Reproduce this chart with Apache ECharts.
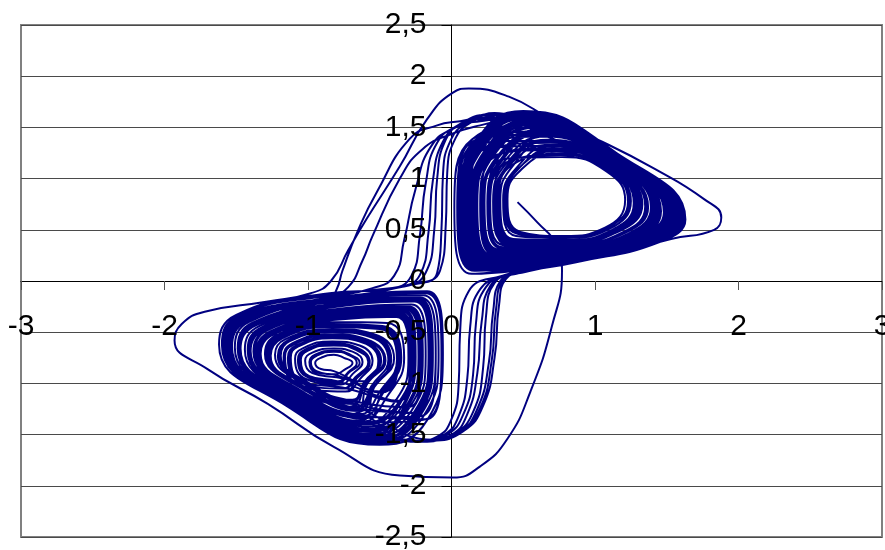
<!DOCTYPE html>
<html>
<head>
<meta charset="utf-8">
<script src="https://cdn.jsdelivr.net/npm/echarts@6/dist/echarts.min.js"></script>
<style>
  html, body { margin: 0; padding: 0; background: #fff; }
  #main { width: 885px; height: 550px; }
</style>
</head>
<body>
<div id="main"></div>
<script>
// axis ranges
const xTicks = [-3, -2, -1, 0, 1, 2, 3]
const yTicks = [-2.5, -2, -1.5, -1, -0.5, 0, 0.5, 1, 1.5, 2, 2.5]

// trajectory, segment by segment
const startPath = [[0.46,0.77],[0.60,0.57],[0.73,0.36],[0.77,0.10],[0.70,-0.44],[0.55,-1.08],[0.39,-1.54],[0.20,-1.81],[0.01,-1.92],[-0.36,-1.90],[-0.82,-1.62],[-1.28,-1.20],[-1.70,-0.86],[-1.93,-0.58],[-1.88,-0.42],[-1.72,-0.30],[-1.28,-0.20],[-0.98,-0.12],[-0.84,0.00],[-0.72,0.30],[-0.59,0.61],[-0.36,1.12],[-0.17,1.58],[0.01,1.84],[0.12,1.88],[0.40,1.80],[0.71,1.57],[1.05,1.36],[1.41,1.10],[1.76,0.80],[1.88,0.62],[1.83,0.50],[1.53,0.41],[1.18,0.28],[0.80,0.19],[0.45,0.11]]

const rightA = [[0.14,0.07],[0.02,0.71],[0.14,1.38],
  [0.58,1.52],[1.13,1.19],[1.50,0.66],[1.33,0.43],[0.83,0.26],[0.23,0.19],[0.12,0.73],[0.23,1.30],
  [0.65,1.41],[1.11,1.15],[1.39,0.72],[1.23,0.46],[0.81,0.33],[0.33,0.31],[0.23,0.76],[0.33,1.21],
  [0.63,1.45],[1.12,1.16],[1.43,0.69],[1.27,0.44],[0.82,0.30],[0.29,0.25],[0.18,0.75],[0.29,1.25],
  [0.60,1.50],[1.13,1.18],[1.48,0.67],[1.31,0.44],[0.83,0.28],[0.25,0.21],[0.14,0.74],[0.25,1.28],
  [0.57,1.55],[1.13,1.20],[1.52,0.65],[1.35,0.42],[0.83,0.25],[0.21,0.16],[0.10,0.73],[0.21,1.31],
  [0.54,1.59],[1.14,1.22],[1.56,0.63],[1.39,0.41],[0.84,0.22],[0.18,0.12],[0.06,0.72],[0.18,1.35],
  [0.51,1.64],[1.15,1.24],[1.61,0.61],[1.43,0.39],[0.85,0.19]]

const crossRL1 = [[0.50,0.10],[0.34,0.00],[0.29,-0.30],[0.26,-0.80],[0.18,-1.25],[0.05,-1.48],[-0.15,-1.56]]

const leftA = [
  [-0.53,-1.53],[-1.12,-1.18],[-1.55,-0.64],[-1.44,-0.37],[-0.85,-0.18],[-0.18,-0.12],[-0.07,-0.71],[-0.18,-1.35],
  [-0.63,-1.31],[-1.05,-1.07],[-1.34,-0.70],[-1.25,-0.51],[-0.84,-0.37],[-0.38,-0.34],[-0.29,-0.74],[-0.38,-1.18],
  [-0.76,-1.04],[-1.03,-0.99],[-1.12,-0.75],[-1.07,-0.64],[-0.83,-0.56],[-0.62,-0.60],[-0.51,-0.78],[-0.62,-0.98],
  [-0.80,-0.94],[-0.97,-0.90],[-1.02,-0.78],[-0.97,-0.70],[-0.82,-0.66],[-0.69,-0.69],[-0.62,-0.79],[-0.69,-0.91],
  [-0.77,-1.01],[-1.01,-0.96],[-1.09,-0.76],[-1.04,-0.66],[-0.83,-0.59],[-0.64,-0.63],[-0.55,-0.78],[-0.64,-0.96],
  [-0.74,-1.08],[-1.05,-1.02],[-1.16,-0.74],[-1.10,-0.62],[-0.83,-0.53],[-0.60,-0.58],[-0.47,-0.77],[-0.60,-1.00],
  [-0.68,-1.20],[-1.01,-1.02],[-1.23,-0.72],[-1.16,-0.57],[-0.83,-0.47],[-0.54,-0.52],[-0.40,-0.76],[-0.54,-1.04],
  [-0.64,-1.27],[-1.03,-1.05],[-1.30,-0.71],[-1.22,-0.53],[-0.84,-0.40],[-0.45,-0.41],[-0.33,-0.75],[-0.45,-1.13],
  [-0.61,-1.34],[-1.06,-1.09],[-1.37,-0.69],[-1.28,-0.48],[-0.84,-0.34],[-0.34,-0.30],[-0.26,-0.74],[-0.34,-1.21],
  [-0.58,-1.42],[-1.09,-1.13],[-1.44,-0.67],[-1.34,-0.44],[-0.84,-0.28],[-0.28,-0.23],[-0.18,-0.73],[-0.28,-1.27],
  [-0.55,-1.49],[-1.11,-1.16],[-1.51,-0.65],[-1.41,-0.40],[-0.85,-0.21],[-0.22,-0.16],[-0.11,-0.72],[-0.22,-1.32],
  [-0.52,-1.56],[-1.14,-1.20],[-1.58,-0.63],[-1.47,-0.35],[-0.85,-0.15]]

const crossLR1 = [[-0.72,-0.06],[-0.62,0.20],[-0.55,0.44],[-0.36,1.00],[-0.20,1.29],[0.01,1.44],[0.20,1.52]]

const rightB = [
  [0.53,1.61],[1.14,1.23],[1.59,0.62],[1.41,0.40],[0.84,0.21],[0.16,0.10],[0.04,0.71],[0.16,1.37],
  [0.64,1.43],[1.12,1.16],[1.41,0.70],[1.25,0.46],[0.82,0.32],[0.31,0.28],[0.21,0.75],[0.31,1.23],
  [0.72,1.28],[1.09,1.10],[1.28,0.76],[1.13,0.50],[0.79,0.40],[0.42,0.41],[0.33,0.78],[0.42,1.13],
  [0.75,1.24],[1.09,1.08],[1.23,0.78],[1.09,0.52],[0.79,0.42],[0.46,0.46],[0.37,0.79],[0.46,1.09],
  [0.73,1.27],[1.10,1.11],[1.29,0.77],[1.14,0.49],[0.80,0.39],[0.41,0.40],[0.32,0.78],[0.41,1.14],
  [0.70,1.33],[1.10,1.12],[1.32,0.74],[1.17,0.49],[0.80,0.37],[0.39,0.37],[0.29,0.77],[0.39,1.16],
  [0.67,1.38],[1.11,1.14],[1.37,0.72],[1.21,0.47],[0.81,0.34],[0.35,0.32],[0.25,0.76],[0.35,1.20],
  [0.63,1.44],[1.12,1.17],[1.42,0.70],[1.26,0.45],[0.82,0.31],[0.30,0.27],[0.20,0.75],[0.30,1.24],
  [0.61,1.47],[1.12,1.17],[1.45,0.68],[1.29,0.44],[0.82,0.29],[0.27,0.23],[0.16,0.74],[0.27,1.26],
  [0.59,1.53],[1.14,1.19],[1.51,0.66],[1.34,0.42],[0.83,0.27],[0.22,0.18],[0.11,0.73],[0.22,1.30],
  [0.56,1.57],[1.14,1.21],[1.54,0.64],[1.37,0.41],[0.84,0.23],[0.20,0.14],[0.08,0.72],[0.20,1.33],
  [0.53,1.62],[1.15,1.23],[1.60,0.62],[1.42,0.40],[0.84,0.20]]

const crossRL2 = [[0.45,0.09],[0.27,-0.05],[0.21,-0.40],[0.18,-0.90],[0.11,-1.30],[0.00,-1.50],[-0.18,-1.56]]

const leftB = [
  [-0.56,-1.45],[-1.10,-1.15],[-1.48,-0.66],[-1.38,-0.42],[-0.84,-0.25],[-0.25,-0.19],[-0.15,-0.72],[-0.25,-1.29],
  [-0.66,-1.24],[-1.02,-1.04],[-1.27,-0.72],[-1.19,-0.55],[-0.84,-0.44],[-0.49,-0.46],[-0.37,-0.76],[-0.49,-1.09],
  [-0.82,-0.88],[-0.91,-0.86],[-0.95,-0.80],[-0.91,-0.75],[-0.82,-0.72],[-0.75,-0.75],[-0.69,-0.80],[-0.75,-0.87],
  [-0.81,-0.91],[-0.94,-0.88],[-0.98,-0.79],[-0.94,-0.73],[-0.82,-0.69],[-0.72,-0.72],[-0.66,-0.80],[-0.72,-0.89],
  [-0.79,-0.98],[-0.99,-0.93],[-1.05,-0.77],[-1.00,-0.68],[-0.83,-0.62],[-0.67,-0.67],[-0.58,-0.79],[-0.67,-0.94],
  [-0.76,-1.05],[-1.04,-1.00],[-1.13,-0.75],[-1.08,-0.63],[-0.83,-0.55],[-0.61,-0.59],[-0.50,-0.78],[-0.61,-0.99],
  [-0.69,-1.16],[-0.99,-1.00],[-1.19,-0.73],[-1.13,-0.59],[-0.83,-0.50],[-0.56,-0.55],[-0.44,-0.77],[-0.56,-1.03],
  [-0.65,-1.25],[-1.02,-1.05],[-1.28,-0.71],[-1.20,-0.54],[-0.84,-0.43],[-0.48,-0.45],[-0.36,-0.76],[-0.48,-1.10],
  [-0.62,-1.32],[-1.05,-1.08],[-1.35,-0.70],[-1.26,-0.50],[-0.84,-0.36],[-0.37,-0.33],[-0.28,-0.74],[-0.37,-1.19],
  [-0.60,-1.38],[-1.07,-1.11],[-1.41,-0.68],[-1.31,-0.46],[-0.84,-0.31],[-0.31,-0.27],[-0.22,-0.73],[-0.31,-1.24],
  [-0.57,-1.46],[-1.10,-1.16],[-1.49,-0.66],[-1.39,-0.41],[-0.84,-0.24],[-0.24,-0.18],[-0.14,-0.72],[-0.24,-1.30],
  [-0.53,-1.54],[-1.13,-1.19],[-1.56,-0.64],[-1.45,-0.36],[-0.85,-0.17],[-0.17,-0.11],[-0.06,-0.71],[-0.17,-1.36],
  [-0.50,-1.60],[-1.15,-1.22],[-1.62,-0.62],[-1.50,-0.33],[-0.85,-0.12]]

const crossLR2 = [[-0.45,-0.08],[-0.28,0.05],[-0.22,0.45],[-0.18,0.95],[-0.10,1.35],[0.05,1.52],[0.22,1.58]]

const rightC = [
  [0.55,1.58],[1.14,1.21],[1.55,0.64],[1.38,0.41],[0.84,0.23],[0.19,0.13],[0.07,0.72],[0.19,1.34],
  [0.68,1.37],[1.11,1.13],[1.36,0.73],[1.20,0.48],[0.81,0.35],[0.36,0.33],[0.26,0.77],[0.36,1.19],
  [0.77,1.21],[1.08,1.07],[1.21,0.79],[1.07,0.52],[0.78,0.44],[0.48,0.48],[0.39,0.80],[0.48,1.08],
  [0.74,1.25],[1.09,1.09],[1.25,0.78],[1.10,0.51],[0.79,0.42],[0.45,0.44],[0.36,0.79],[0.45,1.10],
  [0.70,1.32],[1.10,1.11],[1.31,0.75],[1.16,0.49],[0.80,0.38],[0.40,0.38],[0.30,0.77],[0.40,1.15],
  [0.65,1.41],[1.11,1.15],[1.40,0.71],[1.24,0.46],[0.81,0.33],[0.32,0.29],[0.22,0.76],[0.32,1.22],
  [0.62,1.46],[1.12,1.17],[1.44,0.69],[1.28,0.45],[0.82,0.30],[0.28,0.24],[0.17,0.75],[0.28,1.25],
  [0.59,1.51],[1.13,1.19],[1.49,0.66],[1.32,0.43],[0.83,0.27],[0.24,0.19],[0.13,0.73],[0.24,1.29],
  [0.56,1.56],[1.14,1.20],[1.53,0.65],[1.36,0.42],[0.84,0.24],[0.20,0.15],[0.09,0.72],[0.20,1.32],
  [0.53,1.60],[1.14,1.22],[1.58,0.63],[1.40,0.40],[0.84,0.21],[0.17,0.10],[0.05,0.71],[0.17,1.36],
  [0.50,1.66],[1.15,1.25],[1.63,0.60],[1.45,0.38],[0.85,0.18]]

const crossRL3 = [[0.40,0.06],[0.20,-0.08],[0.13,-0.45],[0.11,-0.95],[0.05,-1.32],[-0.05,-1.50],[-0.22,-1.57]]

const leftC = [
  [-0.60,-1.37],[-1.08,-1.12],[-1.42,-0.67],[-1.32,-0.45],[-0.83,-0.30],[-0.30,-0.26],[-0.21,-0.72],[-0.30,-1.23],
  [-0.70,-1.17],[-1.00,-1.01],[-1.20,-0.74],[-1.14,-0.58],[-0.82,-0.49],[-0.55,-0.54],[-0.43,-0.78],[-0.55,-1.04],
  [-0.67,-1.23],[-1.03,-1.03],[-1.26,-0.73],[-1.18,-0.56],[-0.85,-0.45],[-0.50,-0.47],[-0.38,-0.77],[-0.50,-1.08],
  [-0.64,-1.30],[-1.06,-1.06],[-1.33,-0.71],[-1.24,-0.52],[-0.85,-0.38],[-0.39,-0.35],[-0.30,-0.75],[-0.39,-1.17],
  [-0.61,-1.39],[-1.08,-1.10],[-1.40,-0.69],[-1.30,-0.47],[-0.85,-0.32],[-0.32,-0.28],[-0.23,-0.74],[-0.32,-1.25],
  [-0.57,-1.44],[-1.11,-1.14],[-1.47,-0.67],[-1.37,-0.43],[-0.85,-0.26],[-0.26,-0.20],[-0.16,-0.73],[-0.26,-1.28],
  [-0.54,-1.52],[-1.13,-1.17],[-1.54,-0.65],[-1.43,-0.38],[-0.86,-0.19]]

const crossLR3 = [[-0.80,-0.08],[-0.76,0.10],[-0.65,0.50],[-0.52,0.87],[-0.29,1.39],[-0.10,1.52],[0.06,1.56],[0.25,1.60]]

const rightD = [
  [0.60,1.48],[1.13,1.17],[1.46,0.68],[1.30,0.43],[0.83,0.29],[0.27,0.22],[0.17,0.74],[0.27,1.27],
  [0.69,1.35],[1.11,1.13],[1.35,0.73],[1.19,0.47],[0.81,0.36],[0.37,0.35],[0.27,0.76],[0.37,1.17],
  [0.66,1.41],[1.12,1.15],[1.39,0.72],[1.24,0.46],[0.81,0.32],[0.33,0.29],[0.22,0.76],[0.33,1.22],
  [0.62,1.47],[1.12,1.18],[1.45,0.69],[1.29,0.43],[0.82,0.28],[0.26,0.22],[0.15,0.74],[0.26,1.27],
  [0.58,1.53],[1.13,1.20],[1.51,0.65],[1.34,0.43],[0.84,0.26],[0.22,0.17],[0.11,0.73],[0.22,1.31],
  [0.53,1.60],[1.14,1.23],[1.58,0.62],[1.40,0.40],[0.85,0.21],[0.17,0.10],[0.05,0.71],[0.17,1.36],
  [0.50,1.65],[1.15,1.25],[1.62,0.60],[1.44,0.38],[0.86,0.18]]

const crossRL4 = [[0.55,0.10],[0.38,0.02],[0.33,-0.25],[0.30,-0.75],[0.22,-1.22],[0.08,-1.47],[-0.12,-1.55]]

const leftD = [
  [-0.67,-1.22],[-1.01,-1.05],[-1.26,-0.73],[-1.18,-0.56],[-0.83,-0.45],[-0.50,-0.47],[-0.38,-0.77],[-0.50,-1.08],
  [-0.80,-0.92],[-0.95,-0.89],[-0.99,-0.79],[-0.95,-0.72],[-0.82,-0.68],[-0.72,-0.71],[-0.64,-0.80],[-0.72,-0.90],
  [-0.78,-0.99],[-1.00,-0.94],[-1.07,-0.77],[-1.02,-0.67],[-0.83,-0.61],[-0.66,-0.65],[-0.57,-0.79],[-0.66,-0.95],
  [-0.76,-1.05],[-1.04,-1.00],[-1.14,-0.75],[-1.08,-0.63],[-0.83,-0.55],[-0.61,-0.59],[-0.49,-0.78],[-0.61,-0.99],
  [-0.69,-1.18],[-1.00,-1.01],[-1.21,-0.73],[-1.14,-0.58],[-0.83,-0.49],[-0.55,-0.53],[-0.42,-0.77],[-0.55,-1.04],
  [-0.65,-1.25],[-1.03,-1.05],[-1.28,-0.72],[-1.20,-0.54],[-0.84,-0.42],[-0.48,-0.44],[-0.35,-0.75],[-0.48,-1.10],
  [-0.62,-1.32],[-1.05,-1.08],[-1.35,-0.70],[-1.26,-0.50],[-0.84,-0.36],[-0.37,-0.32],[-0.28,-0.74],[-0.37,-1.20],
  [-0.59,-1.40],[-1.08,-1.12],[-1.42,-0.68],[-1.32,-0.45],[-0.84,-0.30],[-0.30,-0.25],[-0.20,-0.73],[-0.30,-1.25],
  [-0.56,-1.47],[-1.10,-1.15],[-1.49,-0.66],[-1.39,-0.41],[-0.85,-0.23],[-0.23,-0.17],[-0.13,-0.72],[-0.23,-1.31],
  [-0.53,-1.54],[-1.13,-1.19],[-1.56,-0.64],[-1.45,-0.36],[-0.85,-0.17],[-0.17,-0.10],[-0.06,-0.71],[-0.17,-1.36],
  [-0.51,-1.59],[-1.15,-1.21],[-1.60,-0.62],[-1.49,-0.34],[-0.85,-0.13]]

const crossLR4 = [[-0.35,-0.06],[-0.18,0.08],[-0.12,0.50],[-0.10,1.00],[-0.04,1.38],[0.08,1.55],[0.25,1.62]]

const rightE = [
  [0.59,1.51],[1.12,1.20],[1.49,0.67],[1.32,0.44],[0.82,0.27],[0.24,0.20],[0.13,0.72],[0.24,1.29],
  [0.71,1.32],[1.11,1.11],[1.33,0.75],[1.16,0.48],[0.79,0.38],[0.38,0.36],[0.30,0.78],[0.40,1.17],
  [0.76,1.23],[1.08,1.09],[1.24,0.79],[1.10,0.51],[0.78,0.43],[0.47,0.47],[0.38,0.80],[0.47,1.10],
  [0.72,1.29],[1.10,1.10],[1.27,0.76],[1.12,0.50],[0.79,0.40],[0.43,0.41],[0.34,0.79],[0.43,1.13],
  [0.67,1.37],[1.11,1.13],[1.36,0.72],[1.20,0.47],[0.80,0.35],[0.36,0.33],[0.26,0.76],[0.36,1.19],
  [0.63,1.44],[1.12,1.16],[1.42,0.70],[1.26,0.46],[0.82,0.31],[0.30,0.26],[0.20,0.75],[0.30,1.24],
  [0.59,1.51],[1.13,1.19],[1.49,0.66],[1.32,0.43],[0.83,0.27],[0.24,0.19],[0.13,0.73],[0.24,1.29],
  [0.55,1.58],[1.14,1.21],[1.55,0.64],[1.38,0.41],[0.84,0.23],[0.19,0.13],[0.07,0.72],[0.19,1.34],
  [0.52,1.63],[1.15,1.24],[1.60,0.61],[1.42,0.39],[0.85,0.20]]

const crossRL5 = [[0.35,0.05],[0.12,-0.10],[0.06,-0.50],[0.05,-1.00],[0.00,-1.35],[-0.10,-1.52],[-0.25,-1.57]]

const leftE = [
  [-0.62,-1.30],[-1.04,-1.08],[-1.33,-0.71],[-1.24,-0.52],[-0.83,-0.38],[-0.37,-0.35],[-0.28,-0.75],[-0.37,-1.17],
  [-0.79,-0.98],[-0.99,-0.93],[-1.06,-0.78],[-1.01,-0.67],[-0.82,-0.63],[-0.66,-0.66],[-0.57,-0.80],[-0.66,-0.95],
  [-0.74,-1.08],[-1.05,-1.02],[-1.17,-0.75],[-1.11,-0.61],[-0.84,-0.52],[-0.59,-0.57],[-0.46,-0.78],[-0.59,-1.01],
  [-0.66,-1.26],[-1.03,-1.06],[-1.29,-0.72],[-1.21,-0.54],[-0.85,-0.43],[-0.49,-0.45],[-0.36,-0.75],[-0.49,-1.10],
  [-0.60,-1.37],[-1.07,-1.10],[-1.40,-0.68],[-1.30,-0.47],[-0.84,-0.32],[-0.32,-0.28],[-0.23,-0.73],[-0.32,-1.23],
  [-0.56,-1.45],[-1.10,-1.15],[-1.48,-0.66],[-1.38,-0.42],[-0.84,-0.25],[-0.25,-0.19],[-0.15,-0.72],[-0.25,-1.29],
  [-0.54,-1.51],[-1.12,-1.17],[-1.53,-0.64],[-1.43,-0.38],[-0.85,-0.19]]

const crossLR5 = [[-0.30,-0.04],[-0.08,0.10],[-0.04,0.55],[-0.03,1.05],[0.03,1.40],[0.15,1.56],[0.30,1.64]]

const rightF = [
  [0.63,1.43],[1.12,1.15],[1.41,0.71],[1.25,0.45],[0.81,0.32],[0.31,0.27],[0.21,0.76],[0.31,1.22],
  [0.71,1.30],[1.10,1.11],[1.30,0.76],[1.15,0.50],[0.80,0.39],[0.41,0.39],[0.31,0.78],[0.41,1.15],
  [0.67,1.38],[1.11,1.14],[1.36,0.72],[1.21,0.47],[0.81,0.35],[0.35,0.33],[0.25,0.77],[0.35,1.20],
  [0.61,1.48],[1.12,1.18],[1.46,0.68],[1.29,0.44],[0.82,0.29],[0.27,0.23],[0.16,0.74],[0.27,1.27],
  [0.56,1.56],[1.14,1.21],[1.53,0.64],[1.36,0.42],[0.84,0.24],[0.20,0.15],[0.09,0.72],[0.20,1.33],
  [0.53,1.61],[1.14,1.23],[1.59,0.62],[1.41,0.40],[0.84,0.21]]

const crossRL6 = [[0.48,0.08],[0.30,-0.02],[0.24,-0.35],[0.22,-0.85],[0.15,-1.28],[0.02,-1.49],[-0.16,-1.56]]

const leftF = [
  [-0.55,-1.49],[-1.11,-1.16],[-1.51,-0.65],[-1.41,-0.40],[-0.85,-0.21],[-0.22,-0.16],[-0.11,-0.72],[-0.22,-1.32],
  [-0.62,-1.33],[-1.05,-1.08],[-1.36,-0.69],[-1.26,-0.49],[-0.84,-0.35],[-0.36,-0.31],[-0.27,-0.74],[-0.36,-1.20],
  [-0.57,-1.44],[-1.10,-1.14],[-1.47,-0.66],[-1.36,-0.43],[-0.84,-0.26],[-0.26,-0.20],[-0.16,-0.72],[-0.26,-1.29],
  [-0.52,-1.55],[-1.13,-1.20],[-1.57,-0.63],[-1.46,-0.35],[-0.85,-0.16]]

const crossLR6 = [[-0.55,-0.07],[-0.40,0.05],[-0.33,0.40],[-0.25,0.90],[-0.14,1.32],[0.03,1.50],[0.20,1.56]]

const rightG = [
  [0.53,1.60],[1.14,1.22],[1.57,0.63],[1.40,0.40],[0.84,0.21],[0.17,0.11],[0.05,0.71],[0.17,1.36],
  [0.62,1.46],[1.12,1.17],[1.44,0.69],[1.28,0.45],[0.82,0.30],[0.28,0.24],[0.17,0.74],[0.28,1.26],
  [0.57,1.54],[1.13,1.20],[1.52,0.65],[1.35,0.42],[0.83,0.25],[0.21,0.16],[0.10,0.73],[0.21,1.31],
  [0.52,1.62],[1.15,1.24],[1.60,0.61],[1.42,0.39],[0.85,0.20]]

const crossRL7 = [[0.42,0.07],[0.24,-0.06],[0.17,-0.42],[0.15,-0.92],[0.08,-1.31],[-0.03,-1.50],[-0.20,-1.57]]

const leftG = [
  [-0.56,-1.45],[-1.10,-1.15],[-1.48,-0.66],[-1.38,-0.42],[-0.84,-0.25],[-0.25,-0.19],[-0.15,-0.72],[-0.25,-1.29],
  [-0.68,-1.20],[-1.01,-1.02],[-1.23,-0.72],[-1.16,-0.57],[-0.83,-0.47],[-0.54,-0.52],[-0.40,-0.76],[-0.54,-1.04],
  [-0.61,-1.35],[-1.06,-1.09],[-1.38,-0.69],[-1.29,-0.48],[-0.84,-0.33],[-0.33,-0.29],[-0.25,-0.74],[-0.33,-1.22],
  [-0.53,-1.53],[-1.12,-1.18],[-1.55,-0.64],[-1.44,-0.37],[-0.85,-0.18]]

const crossLR7 = [[-0.40,-0.07],[-0.22,0.06],[-0.16,0.48],[-0.13,0.98],[-0.06,1.36],[0.07,1.54],[0.24,1.60]]

const rightH = [
  [0.51,1.64],[1.15,1.24],[1.61,0.61],[1.43,0.39],[0.85,0.19],[0.14,0.07],[0.02,0.71],[0.14,1.38],
  [0.60,1.50],[1.13,1.18],[1.48,0.67],[1.31,0.44],[0.83,0.28],[0.25,0.20],[0.14,0.74],[0.25,1.28],
  [0.55,1.58],[1.14,1.22],[1.56,0.63],[1.39,0.41],[0.84,0.22],[0.18,0.12],[0.06,0.72],[0.18,1.35],
  [0.51,1.65],[1.15,1.25],[1.62,0.60],[1.44,0.38],[0.85,0.19]]

const crossRL8 = [[0.52,0.09],[0.36,0.01],[0.31,-0.28],[0.28,-0.78],[0.20,-1.24],[0.06,-1.48],[-0.14,-1.56]]

const leftH = [
  [-0.53,-1.53],[-1.12,-1.18],[-1.55,-0.64],[-1.44,-0.37],[-0.85,-0.18],[-0.18,-0.12],[-0.07,-0.71],[-0.18,-1.35],
  [-0.60,-1.38],[-1.07,-1.11],[-1.41,-0.68],[-1.31,-0.46],[-0.84,-0.31],[-0.31,-0.27],[-0.22,-0.73],[-0.31,-1.24],
  [-0.54,-1.50],[-1.11,-1.17],[-1.53,-0.65],[-1.42,-0.39],[-0.85,-0.20],[-0.20,-0.14],[-0.09,-0.72],[-0.20,-1.33],
  [-0.51,-1.57],[-1.14,-1.21],[-1.59,-0.63],[-1.48,-0.34],[-0.85,-0.14]]

const crossLR8 = [[-0.25,-0.03],[-0.10,0.08],[-0.07,0.50],[-0.06,1.02],[0.00,1.39],[0.12,1.55],[0.28,1.63]]

const rightI = [
  [0.53,1.61],[1.14,1.23],[1.59,0.62],[1.41,0.40],[0.84,0.21],[0.16,0.10],[0.04,0.71],[0.16,1.37],
  [0.58,1.52],[1.13,1.19],[1.50,0.66],[1.33,0.43],[0.83,0.26],[0.23,0.19]]

const trajectory = [].concat(
  startPath, rightA, crossRL1, leftA, crossLR1, rightB, crossRL2, leftB, crossLR2,
  rightC, crossRL3, leftC, crossLR3, rightD, crossRL4, leftD, crossLR4, rightE,
  crossRL5, leftE, crossLR5, rightF, crossRL6, leftF, crossLR6, rightG, crossRL7,
  leftG, crossLR7, rightH, crossRL8, leftH, crossLR8, rightI
)

// plot area, in px
const gridLeft = 21, gridTop = 25, gridWidth = 861, gridHeight = 512
const xMin = xTicks[0], xMax = xTicks[xTicks.length - 1]
const yMin = yTicks[0], yMax = yTicks[yTicks.length - 1]
// label-only axes are shifted from the grid edge onto the zero lines
const xZeroShift = -gridHeight * (0 - yMin) / (yMax - yMin)
const yZeroShift = -gridWidth * (0 - xMin) / (xMax - xMin)

const chart = echarts.init(document.getElementById('main'), null, { renderer: 'canvas' })

const labelFont = {
  color: '#000',
  fontFamily: 'Liberation Sans, Arial, sans-serif',
  fontSize: 30
}
const commaFmt = v => String(v).replace('.', ',')

const option = {
  backgroundColor: '#fff',
  animation: false,
  grid: {
    left: gridLeft,
    top: gridTop,
    width: gridWidth,
    height: gridHeight,
    containLabel: false,
    outerBoundsMode: 'none',
    show: true,
    borderColor: '#808080',
    borderWidth: 2,
    backgroundColor: 'transparent'
  },
  xAxis: [
    {
      // axis line and ticks, under the curve
      type: 'value',
      min: xMin,
      max: xMax,
      interval: 1,
      position: 'bottom',
      z: 0,
      axisLine: { show: true, onZero: true, lineStyle: { color: '#000', width: 1 } },
      axisTick: { show: true, inside: false, length: 9, lineStyle: { color: '#555', width: 1 } },
      axisLabel: { show: false },
      splitLine: { show: false }
    },
    {
      // labels only, over the curve
      type: 'value',
      min: xMin,
      max: xMax,
      interval: 1,
      position: 'bottom',
      offset: xZeroShift,
      z: 10,
      axisLine: { show: false, onZero: false },
      axisTick: { show: false },
      axisLabel: Object.assign({ show: true, margin: 31, formatter: commaFmt }, labelFont),
      splitLine: { show: false }
    }
  ],
  yAxis: [
    {
      type: 'value',
      min: yMin,
      max: yMax,
      interval: 0.5,
      position: 'left',
      z: 0,
      axisLine: { show: true, onZero: true, lineStyle: { color: '#000', width: 1 } },
      axisTick: { show: true, inside: false, length: 10, lineStyle: { color: '#000', width: 1 } },
      axisLabel: { show: false },
      splitLine: { show: true, lineStyle: { color: '#4a4a4a', width: 1 } }
    },
    {
      type: 'value',
      min: yMin,
      max: yMax,
      interval: 0.5,
      position: 'left',
      offset: yZeroShift,
      z: 10,
      axisLine: { show: false, onZero: false },
      axisTick: { show: false },
      axisLabel: Object.assign({ show: true, margin: 25, formatter: commaFmt }, labelFont),
      splitLine: { show: false }
    }
  ],
  series: [
    {
      type: 'line',
      xAxisIndex: 0,
      yAxisIndex: 0,
      data: trajectory,
      showSymbol: false,
      smooth: 0.5,
      z: 2,
      lineStyle: { color: '#000080', width: 2 }
    }
  ]
}

chart.setOption(option)
</script>
</body>
</html>
